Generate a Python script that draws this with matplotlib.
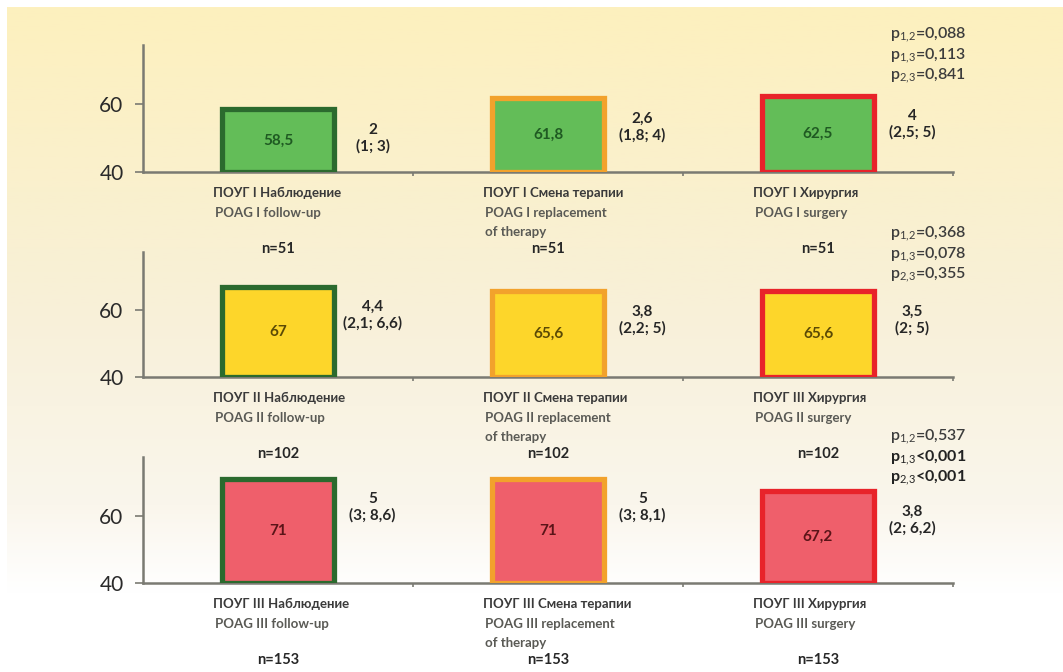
import numpy as np
import matplotlib
matplotlib.use("Agg")
import matplotlib.pyplot as plt
from matplotlib.colors import LinearSegmentedColormap

plt.rcParams['font.family'] = ['Lato', 'DejaVu Sans']
plt.rcParams['mathtext.fontset'] = 'custom'
plt.rcParams['mathtext.rm'] = 'Lato'
plt.rcParams['mathtext.bf'] = 'Lato:bold'

# ---- data ----
groups = ["I", "II", "III"]
values = [[58.5, 61.8, 62.5], [67, 65.6, 65.6], [71, 71, 67.2]]
medians = [["2", "2,6", "4"], ["4,4", "3,8", "3,5"], ["5", "5", "3,8"]]
iqr = [["(1; 3)", "(1,8; 4)", "(2,5; 5)"],
       ["(2,1; 6,6)", "(2,2; 5)", "(2; 5)"],
       ["(3; 8,6)", "(3; 8,1)", "(2; 6,2)"]]
labels_ru = [["ПОУГ I Наблюдение", "ПОУГ I Смена терапии", "ПОУГ I Хирургия"],
             ["ПОУГ II Наблюдение", "ПОУГ II Смена терапии", "ПОУГ III Хирургия"],
             ["ПОУГ III Наблюдение", "ПОУГ III Смена терапии", "ПОУГ III Хирургия"]]
labels_en = [["POAG I follow-up", "POAG I replacement\nof therapy", "POAG I surgery"],
             ["POAG II follow-up", "POAG II replacement\nof therapy", "POAG II surgery"],
             ["POAG III follow-up", "POAG III replacement\nof therapy", "POAG III surgery"]]
n_counts = ["n=51", "n=102", "n=153"]
pvals = [["0,088", "0,113", "0,841"],
         ["0,368", "0,078", "0,355"],
         ["0,537", "<0,001", "<0,001"]]
p_pairs = ["1,2", "1,3", "2,3"]
yticks = [40, 60]

# ---- styles ----
fills = ["#63BD58", "#FDD62A", "#EF5F6B"]
edges = ["#2B6A2E", "#F2A22C", "#E8232A"]
txtcols = ["#1F5A22", "#5B4A05", "#5A1418"]

W, H = 1063, 672
fig = plt.figure(figsize=(W / 100, H / 100), dpi=100)
fig.patch.set_facecolor("white")

# background gradient
bg = fig.add_axes([7 / W, 0, 1 - 7 / W, 1 - 7 / H], zorder=-10)
cmap = LinearSegmentedColormap.from_list(
    "bg", [(0, "#FDF0BE"), (0.45, "#F8F0D8"), (0.75, "#FAF6EC"), (0.88, "#FFFFFF"), (1, "#FFFFFF")])
grad = np.linspace(0, 1, 256).reshape(-1, 1)
bg.imshow(grad, aspect="auto", cmap=cmap, extent=[0, 1, 0, 1], origin="upper")
bg.axis("off")

left_px, right_px = 143, 953
panels_px = [(45, 172), (252, 377), (457, 583)]
lab_col = "#3A3A3A"

for r, (top_px, bot_px) in enumerate(panels_px):
    hpx = bot_px - top_px
    ax = fig.add_axes([left_px / W, 1 - bot_px / H, (right_px - left_px) / W, hpx / H])
    ax.patch.set_alpha(0)
    x = np.arange(3)
    ax.bar(x, np.array(values[r]) - 40, bottom=40, width=0.415, color=fills[r],
           edgecolor=edges, linewidth=3.8, zorder=3)
    ax.set_xlim(-0.5, 2.5)
    ax.set_ylim(40, 77.4)
    for s in ["top", "right"]:
        ax.spines[s].set_visible(False)
    for s in ["left", "bottom"]:
        ax.spines[s].set_color("#7A7A72")
        ax.spines[s].set_linewidth(1.8)
    ax.set_yticks(yticks)
    ax.set_yticklabels([str(t) for t in yticks], fontsize=15, color="#2A2A2A")
    ax.tick_params(axis="y", length=6, width=1.2, color="#7A7A72", pad=8)
    ax.set_xticks([0.5, 1.5, 2.5])
    ax.set_xticklabels([])
    ax.tick_params(axis="x", length=3, width=1.2, color="#7A7A72", direction="out")
    tr = ax.get_xaxis_transform()
    for i in range(3):
        v = values[r][i]
        ax.text(i, (40 + v) / 2, str(v).replace(".", ","), ha="center", va="center",
                fontsize=11, fontweight="bold", color=txtcols[r], zorder=4)
        ax.text(i + 0.35, v - 8.5, medians[r][i] + "\n" + iqr[r][i], ha="center", va="center",
                fontsize=11, fontweight="bold", color="#262626", linespacing=1.2)
        ax.text(i - 0.24, -21 / hpx, labels_ru[r][i], transform=tr,
                ha="left", va="center", fontsize=9.5, fontweight="bold", color=lab_col)
        for j, line in enumerate(labels_en[r][i].split("\n")):
            ax.text(i - 0.235, -(41 + 19 * j) / hpx, line, transform=tr,
                    ha="left", va="center", fontsize=9.5, fontweight="bold", color="#5A5A55")
        ax.text(i, -77 / hpx, n_counts[r], transform=tr,
                ha="center", va="center", fontsize=10.5, fontweight="bold", color="#262626")
    # p-values
    p_top = [35, 234, 437][r]
    for k in range(3):
        bold = (r == 2 and k > 0)
        pair = p_pairs[k].replace(",", "{,}")
        sep = "" if pvals[r][k].startswith("<") else "="
        fig.text(890 / W, 1 - (p_top + 20.5 * k) / H,
                 "p$_{%s}$%s%s" % (pair, sep, pvals[r][k]),
                 ha="left", va="center", fontsize=11.5,
                 color="#222222" if bold else "#3C3C3C",
                 fontweight="bold" if bold else "semibold")

fig.savefig("out.png", dpi=100, facecolor="white")
